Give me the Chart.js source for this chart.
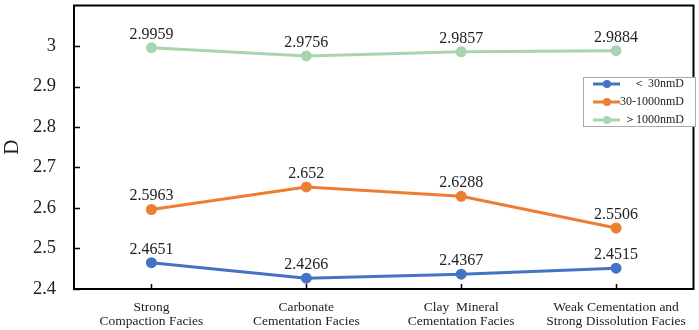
<!DOCTYPE html>
<html>
<head>
<meta charset="utf-8">
<script src="https://cdn.jsdelivr.net/npm/chart.js@4"></script>
<style>
  html, body { margin: 0; padding: 0; background: #fff; }
  #wrap { width: 699px; height: 330px; }
</style>
</head>
<body>
<div id="wrap"><canvas id="chart" width="699" height="330"></canvas></div>
<script>
// facies along the x axis (two-line labels)
const facies = [
    ['Strong', 'Compaction Facies'],
    ['Carbonate', 'Cementation Facies'],
    ['Clay  Mineral', 'Cementation Facies'],
    ['Weak Cementation and', 'Strong Dissolution Facies']
];
const seriesNames = ['\uFF1C 30nmD', '30-1000nmD', '\uFF1E1000nmD'];
const under30 = [2.4651, 2.4266, 2.4367, 2.4515];
const mid30to1000 = [2.5963, 2.652, 2.6288, 2.5506];
const over1000 = [2.9959, 2.9756, 2.9857, 2.9884];
const yTicks = [2.4, 2.5, 2.6, 2.7, 2.8, 2.9, 3];
const colors = ['#4472c4', '#ed7d31', '#a8d5b0'];

const SERIF = '"Liberation Serif", "Times New Roman", serif';

const frame = {
    id: 'frame',
    afterDraw(chart) {
        const { ctx, chartArea: a, scales } = chart;
        ctx.save();
        ctx.strokeStyle = '#000';
        ctx.lineWidth = 2;
        ctx.strokeRect(a.left, a.top, a.right - a.left, a.bottom - a.top);
        ctx.lineWidth = 1.5;
        ctx.beginPath();
        yTicks.forEach(t => {
            const y = Math.round(scales.y.getPixelForValue(t)) + 0.5;
            ctx.moveTo(a.left, y);
            ctx.lineTo(a.left + 6, y);
        });
        facies.forEach((f, i) => {
            const x = Math.round(scales.x.getPixelForValue(i)) + 0.5;
            ctx.moveTo(x, a.bottom);
            ctx.lineTo(x, a.bottom - 5);
        });
        ctx.stroke();

        // value labels above points
        ctx.fillStyle = '#222';
        ctx.font = '16px ' + SERIF;
        ctx.textAlign = 'center';
        ctx.textBaseline = 'alphabetic';
        chart.data.datasets.forEach((ds, di) => {
            const meta = chart.getDatasetMeta(di);
            meta.data.forEach((pt, i) => {
                ctx.fillText(String(ds.data[i]), pt.x, pt.y - 9);
            });
        });

        // legend box inside plot area
        const lx = 583, ly = 77, lw = 112, lh = 49;
        ctx.fillStyle = '#fff';
        ctx.fillRect(lx, ly, lw, lh);
        ctx.strokeStyle = '#aaa';
        ctx.lineWidth = 1;
        ctx.strokeRect(lx + 0.5, ly + 0.5, lw, lh);
        ctx.font = '12px ' + SERIF;
        ctx.textAlign = 'right';
        ctx.textBaseline = 'middle';
        chart.data.datasets.forEach((ds, di) => {
            const y = 84 + di * 18;
            ctx.strokeStyle = ds.borderColor;
            ctx.lineWidth = 3;
            ctx.beginPath();
            ctx.moveTo(593, y);
            ctx.lineTo(620, y);
            ctx.stroke();
            ctx.fillStyle = ds.borderColor;
            ctx.beginPath();
            ctx.arc(607, y, 4, 0, Math.PI * 2);
            ctx.fill();
            ctx.fillStyle = '#222';
            ctx.fillText(ds.label, 684, y);
        });
        ctx.restore();
    }
};

new Chart(document.getElementById('chart').getContext('2d'), {
    type: 'line',
    data: {
        labels: facies,
        datasets: [under30, mid30to1000, over1000].map((vals, i) => ({
            label: seriesNames[i],
            data: vals,
            borderColor: colors[i],
            backgroundColor: colors[i],
            borderWidth: 3,
            pointRadius: 5.5,
            pointBorderWidth: 0,
            tension: 0
        }))
    },
    options: {
        responsive: false,
        animation: false,
        events: [],
        layout: { padding: { left: 0, top: 0, right: 4, bottom: 0 } },
        plugins: { legend: { display: false }, tooltip: { enabled: false } },
        scales: {
            x: {
                offset: true,
                grid: { display: false },
                border: { display: false },
                afterFit(scale) {
                    scale.height = 41;
                    scale.paddingLeft = 0;
                    scale.paddingRight = 0;
                },
                ticks: {
                    padding: 3,
                    maxRotation: 0,
                    autoSkip: false,
                    color: '#222',
                    font: { family: SERIF, size: 13.5, lineHeight: 1.05 }
                }
            },
            y: {
                min: 2.4,
                max: 3.1,
                grid: { display: false },
                border: { display: false },
                afterBuildTicks(scale) {
                    scale.ticks = yTicks.map(v => ({ value: v }));
                },
                afterFit(scale) {
                    scale.width = 74;
                    scale.paddingTop = 0;
                    scale.paddingBottom = 0;
                },
                title: {
                    display: true,
                    text: 'D',
                    color: '#222',
                    font: { family: SERIF, size: 21 },
                    padding: 0
                },
                ticks: {
                    padding: 10,
                    color: '#222',
                    font: { family: SERIF, size: 18.5 },
                    callback: v => String(Math.round(v * 10) / 10)
                }
            }
        }
    },
    plugins: [frame]
});
</script>
</body>
</html>
